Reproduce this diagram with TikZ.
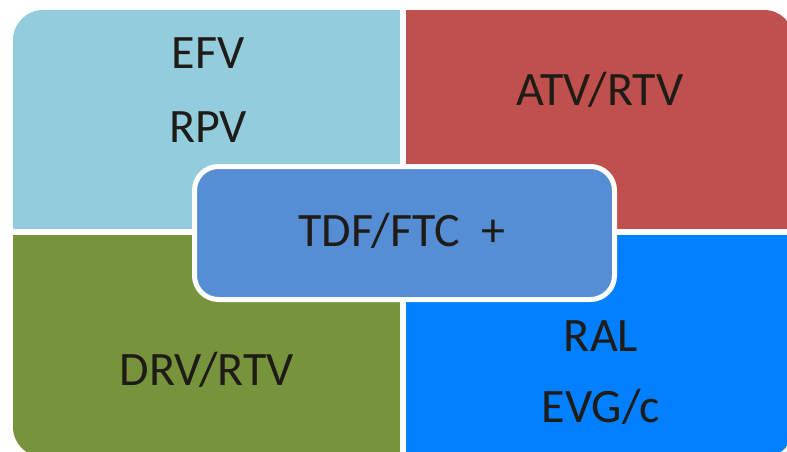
\documentclass[tikz,border=0pt]{standalone}
\usepackage{fontspec}
\setmainfont{Carlito}
\definecolor{qtl}{HTML}{93CDDD}
\definecolor{qtr}{HTML}{C0504D}
\definecolor{qbl}{HTML}{77933C}
\definecolor{qbr}{HTML}{0080FF}
\definecolor{ctr}{HTML}{558ED5}
\definecolor{txt}{HTML}{1F1C17}
\begin{document}
\begin{tikzpicture}[x=1pt,y=-1pt,
  lbl/.style={anchor=base,inner sep=0pt,text=txt,font=\fontsize{48}{56}\selectfont},
  centerbox/.style={draw=white,line width=5pt,fill=ctr,rounded corners=24pt,
    minimum width=420pt,minimum height=133pt,inner sep=0pt}]
\useasboundingbox (0,0) rectangle (787,452);
\begin{scope}
  \clip[rounded corners=30pt] (13,10) rectangle (794,457);
  \fill[qtl] (13,10) rectangle (400,229);
  \fill[qtr] (406,10) rectangle (794,229);
  \fill[qbl] (13,235) rectangle (400,457);
  \fill[qbr] (406,235) rectangle (794,457);
\end{scope}
\node[lbl] (efv) at (208,68) {EFV};
\node[lbl] (rpv) at (208,142) {RPV};
\node[lbl] (atv) at (600,105) {ATV/RTV};
\node[lbl] (drv) at (207,385) {DRV/RTV};
\node[lbl] (ral) at (601,351) {RAL};
\node[lbl] (evg) at (601,422) {EVG/c};
\node[centerbox] (ctrbox) at (404.5,233) {};
\node[lbl] (tdf) at (402,246) {TDF/FTC\ \ +};
\end{tikzpicture}
\end{document}
